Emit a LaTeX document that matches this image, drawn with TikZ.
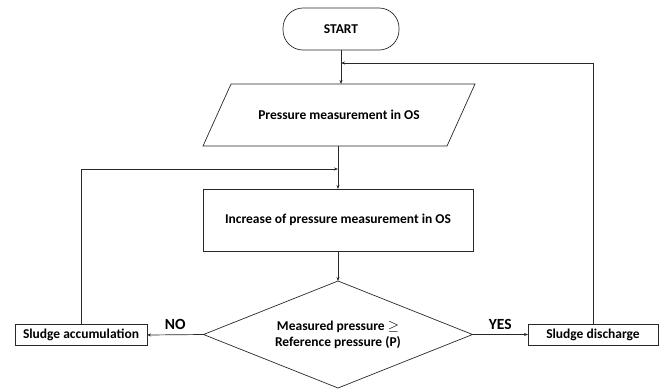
\documentclass[tikz,border=0pt]{standalone}
\usepackage{fontspec}
\setmainfont{Carlito}
\usepackage{tikz}
\usetikzlibrary{arrows.meta, shapes.geometric}
\definecolor{lineclr}{RGB}{40, 40, 40}

\begin{document}
\begin{tikzpicture}[
  x=1pt, y=-1pt,
  >={Stealth[length=4pt, width=3pt]},
  every node/.style={font=\fontsize{13.5}{16}\selectfont\bfseries, align=center, outer sep=0pt},
  flowline/.style={draw=lineclr, line width=0.7pt},
  termbox/.style={draw=lineclr, line width=0.7pt, rounded corners=20pt, minimum width=116pt, minimum height=42pt},
  iobox/.style={minimum width=244pt, minimum height=62pt, inner sep=0pt},
  procbox/.style={draw=lineclr, line width=0.7pt, minimum width=270pt, minimum height=62pt},
  decbox/.style={draw=lineclr, line width=0.7pt, diamond, aspect=2.51, minimum width=269pt, minimum height=107pt, inner sep=0pt},
  endbox/.style={draw=lineclr, line width=0.7pt, minimum height=21pt, inner sep=2pt},
  yesno/.style={font=\fontsize{15.5}{18}\selectfont\bfseries},
]
  \useasboundingbox (0,0) rectangle (668,389);

  % Main column
  \node[termbox] (start) at (341,29) {START};
  \node[iobox] (meas) at (339,115) {Pressure measurement in OS};
  \draw[flowline] (231,84) -- (475,84) -- (447,146) -- (203,146) -- cycle;
  \node[procbox] (inc) at (338,220) {Increase of pressure measurement in OS};
  \node[decbox] (dec) at (338,334.5) {Measured pressure $\geq$\\Reference pressure (P)};

  % Outcomes
  \node[endbox, minimum width=132pt] (acc) at (81,335) {Sludge accumulation};
  \node[endbox, minimum width=130pt] (dis) at (593,334.5) {Sludge discharge};

  % Joints on the main line
  \coordinate (jtop) at (341,63);
  \coordinate (jmid) at (338,169);

  % Connectors
  \draw[flowline, ->] (start) -- (start |- meas.north);
  \draw[flowline, ->] (meas.south -| inc.north) -- (inc.north);
  \draw[flowline, ->] (inc) -- (dec);
  \draw[flowline, ->] (dec.west) -- (acc.east)
    node[midway, above=2pt, yesno] (no) {NO};
  \draw[flowline, ->] (dec.east) -- (dis.west)
    node[midway, above=2pt, yesno] (yes) {YES};

  % Feedback loops
  \draw[flowline, ->] (acc.north) |- (jmid);
  \draw[flowline, ->] (dis.north) |- (jtop);

\end{tikzpicture}
\end{document}
